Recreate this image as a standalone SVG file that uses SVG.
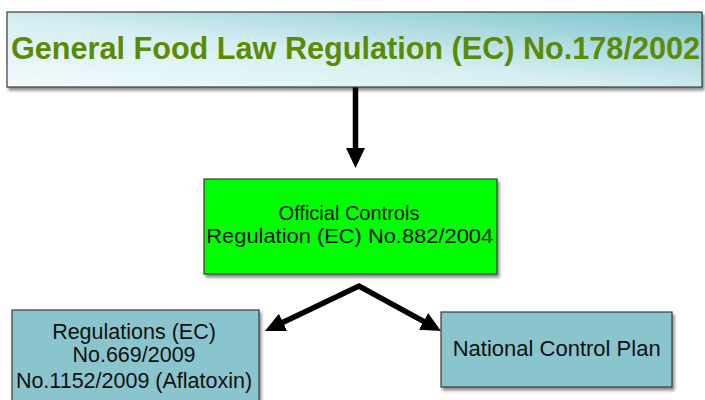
<svg xmlns="http://www.w3.org/2000/svg" width="705" height="400" viewBox="0 0 705 400">
  <defs>
    <linearGradient id="headFill" x1="0" y1="1" x2="1" y2="0">
      <stop offset="0" stop-color="#f2fbfc"/>
      <stop offset="0.45" stop-color="#d6eff2"/>
      <stop offset="1" stop-color="#7cc3cb"/>
    </linearGradient>
    <filter id="shadow" x="-5%" y="-10%" width="115%" height="130%">
      <feDropShadow dx="2" dy="3" stdDeviation="1.6" flood-color="#000" flood-opacity="0.45"/>
    </filter>
    <marker id="head" markerUnits="userSpaceOnUse" markerWidth="22" markerHeight="21" refX="8" refY="9.5" orient="auto-start-reverse" viewBox="0 0 22 19">
      <path d="M0,0 L20,9.5 L0,19 Z" fill="#000"/>
    </marker>
  </defs>
  <style>
    .box { stroke: #3a3a3a; stroke-width: 1.2; filter: url(#shadow); }
    .teal { fill: #8ac4cc; }
    .lbl { font-family: "Liberation Sans", Arial, sans-serif; fill: #111; text-anchor: middle; }
    .title { font-family: "Liberation Sans", Arial, sans-serif; font-size: 30.5px; font-weight: bold; fill: #5b8b05; }
    .conn { fill: none; stroke: #000; stroke-width: 5.5; stroke-linejoin: miter; marker-end: url(#head); }
  </style>

  <g id="connectors">
    <path class="conn" d="M355.5,87 L355.5,156"/>
    <path class="conn" style="marker-start:url(#head)" d="M275.8,325.8 L359,286 L430.5,325.2"/>
  </g>

  <g id="general-food-law">
    <rect class="box" x="7" y="12" width="695" height="75" fill="url(#headFill)"/>
    <text class="title" x="11" y="59" textLength="689" lengthAdjust="spacingAndGlyphs">General Food Law Regulation (EC) No.178/2002</text>
  </g>

  <g id="official-controls">
    <rect class="box" x="204" y="179" width="293" height="95" fill="#00ff00"/>
    <text class="lbl" font-size="20" x="349" y="220">Official Controls</text>
    <text class="lbl" font-size="20.5" transform="translate(349.7,243) scale(1.067,1)">Regulation (EC) No.882/2004</text>
  </g>

  <g id="regulations">
    <rect class="box teal" x="12" y="310" width="247" height="100"/>
    <text class="lbl" font-size="21.5" x="134" y="338.5">Regulations (EC)</text>
    <text class="lbl" font-size="21.5" x="134" y="361.7">No.669/2009</text>
    <text class="lbl" font-size="21.5" x="134" y="387.5">No.1152/2009 (Aflatoxin)</text>
  </g>

  <g id="national-control-plan">
    <rect class="box teal" x="441" y="312" width="231" height="75"/>
    <text class="lbl" font-size="22" x="556.7" y="356">National Control Plan</text>
  </g>
</svg>
